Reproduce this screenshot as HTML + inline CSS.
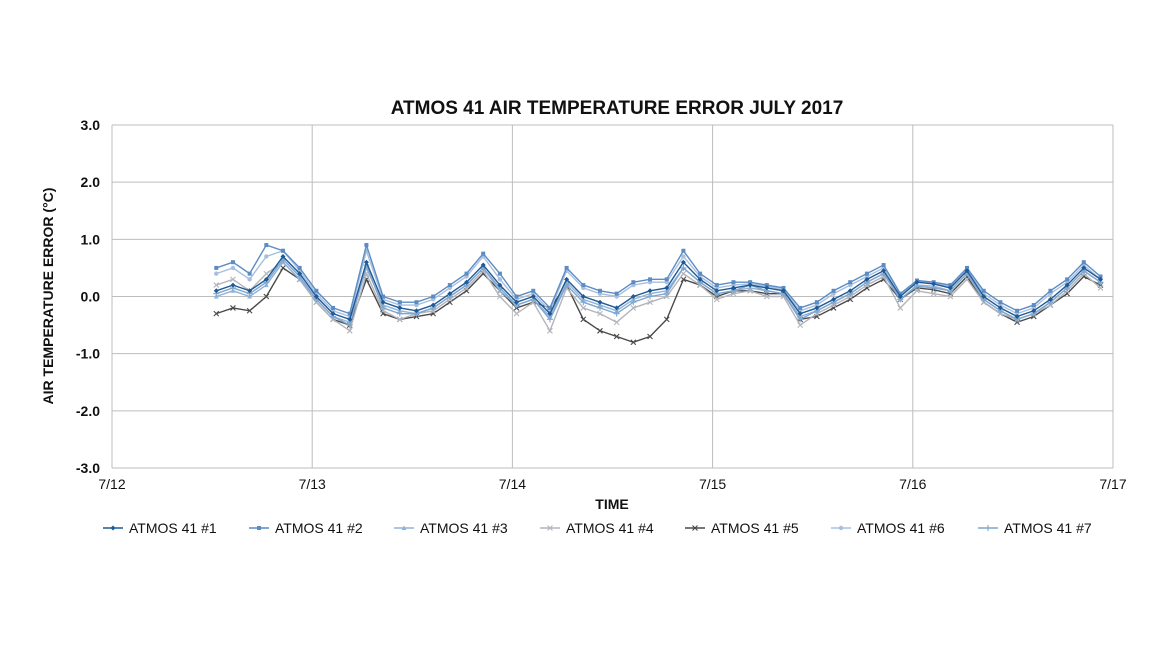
<!DOCTYPE html>
<html><head><meta charset="utf-8"><style>
body{margin:0;background:#fff;}
svg text{font-family:"Liberation Sans",sans-serif;}
</style></head><body>
<svg id="chart" width="1155" height="650" xmlns="http://www.w3.org/2000/svg">
<text x="617" y="114" text-anchor="middle" font-size="19" font-weight="bold" fill="#111">ATMOS 41 AIR TEMPERATURE ERROR JULY 2017</text>
<g id="grid"></g>
<g id="series"></g>
<text transform="translate(53,296) rotate(-90)" text-anchor="middle" font-size="14" font-weight="bold" fill="#111">AIR TEMPERATURE ERROR (°C)</text>
<text x="612" y="509" text-anchor="middle" font-size="14" font-weight="bold" fill="#111">TIME</text>
<g id="legend"></g>
</svg>
<script>
const yTicks=[3.0,2.0,1.0,0.0,-1.0,-2.0,-3.0];
const xTickLabels=["7/12","7/13","7/14","7/15","7/16","7/17"];
const seriesNames=["ATMOS 41 #1","ATMOS 41 #2","ATMOS 41 #3","ATMOS 41 #4","ATMOS 41 #5","ATMOS 41 #6","ATMOS 41 #7"];
const startHour=12.5, stepHours=2;
const s1=[0.1,0.2,0.1,0.3,0.7,0.4,0.0,-0.3,-0.4,0.6,-0.1,-0.2,-0.25,-0.15,0.05,0.25,0.55,0.2,-0.1,0.0,-0.3,0.3,0.0,-0.1,-0.2,0.0,0.1,0.15,0.6,0.3,0.1,0.15,0.2,0.15,0.1,-0.3,-0.2,-0.05,0.1,0.3,0.45,0.0,0.25,0.22,0.15,0.45,0.0,-0.2,-0.35,-0.25,-0.05,0.2,0.5,0.3];
const s2=[0.5,0.6,0.4,0.9,0.8,0.5,0.1,-0.2,-0.3,0.9,0.0,-0.1,-0.1,0.0,0.2,0.4,0.75,0.4,0.0,0.1,-0.2,0.5,0.2,0.1,0.05,0.25,0.3,0.3,0.8,0.4,0.2,0.25,0.25,0.2,0.15,-0.2,-0.1,0.1,0.25,0.4,0.55,0.05,0.28,0.25,0.2,0.5,0.1,-0.1,-0.25,-0.15,0.1,0.3,0.6,0.35];
const s3=[0.0,0.1,0.0,0.2,0.6,0.3,-0.05,-0.35,-0.45,0.5,-0.15,-0.25,-0.3,-0.2,0.0,0.2,0.5,0.1,-0.15,-0.05,-0.35,0.25,-0.05,-0.15,-0.25,-0.05,0.05,0.1,0.5,0.25,0.05,0.1,0.15,0.1,0.05,-0.35,-0.25,-0.1,0.05,0.25,0.4,-0.05,0.2,0.18,0.1,0.4,-0.05,-0.25,-0.4,-0.3,-0.1,0.15,0.45,0.25];
const s4=[0.2,0.3,0.1,0.4,0.6,0.3,-0.1,-0.4,-0.6,0.4,-0.25,-0.4,-0.3,-0.25,-0.05,0.15,0.45,0.0,-0.3,-0.1,-0.6,0.15,-0.2,-0.3,-0.45,-0.2,-0.1,0.0,0.4,0.2,-0.05,0.05,0.1,0.0,0.0,-0.5,-0.3,-0.15,0.0,0.2,0.35,-0.2,0.1,0.05,0.0,0.3,-0.1,-0.3,-0.4,-0.3,-0.15,0.1,0.4,0.15];
const s5=[-0.3,-0.2,-0.25,0.0,0.5,0.3,-0.1,-0.4,-0.5,0.3,-0.3,-0.4,-0.35,-0.3,-0.1,0.1,0.4,0.1,-0.2,-0.1,-0.2,0.2,-0.4,-0.6,-0.7,-0.8,-0.7,-0.4,0.3,0.2,0.0,0.1,0.1,0.05,0.05,-0.4,-0.35,-0.2,-0.05,0.15,0.3,-0.05,0.15,0.12,0.05,0.35,-0.1,-0.3,-0.45,-0.35,-0.15,0.05,0.35,0.2];
const s6=[0.4,0.5,0.3,0.7,0.8,0.45,0.05,-0.25,-0.35,0.8,-0.05,-0.15,-0.15,-0.05,0.15,0.35,0.7,0.3,-0.05,0.05,-0.25,0.45,0.15,0.05,0.0,0.2,0.25,0.25,0.7,0.35,0.15,0.2,0.22,0.18,0.12,-0.25,-0.15,0.05,0.2,0.35,0.5,0.02,0.26,0.23,0.18,0.48,0.05,-0.15,-0.3,-0.2,0.05,0.25,0.55,0.3];
const s7=[0.05,0.15,0.05,0.25,0.65,0.35,-0.05,-0.35,-0.5,0.55,-0.2,-0.3,-0.3,-0.2,0.0,0.2,0.5,0.15,-0.15,-0.05,-0.4,0.2,-0.1,-0.2,-0.3,-0.1,0.0,0.05,0.5,0.25,0.05,0.1,0.2,0.1,0.05,-0.4,-0.25,-0.1,0.05,0.25,0.4,-0.05,0.18,0.15,0.1,0.4,-0.05,-0.25,-0.4,-0.3,-0.1,0.15,0.45,0.25];
const allSeries=[s1,s2,s3,s4,s5,s6,s7];
const colors=["#1f5a96","#5b8cc4","#8fb3d9","#b4b4bc","#4a4a4a","#a8bfe0","#7fa7d0"];
const markers=["diamond","square","triangle","x","x","circle","plus"];
const NS="http://www.w3.org/2000/svg";
const X0=112,X1=1113,Y0=125,Y1=468;
function xScale(h){return X0+(h/120)*(X1-X0);}
function yScale(v){return Y0+(3-v)/6*(Y1-Y0);}
function mk(tag,attrs,parent){const e=document.createElementNS(NS,tag);for(const k in attrs)e.setAttribute(k,attrs[k]);parent.appendChild(e);return e;}
const grid=document.getElementById('grid');
yTicks.forEach(v=>{
  const l=mk('line',{x1:X0,x2:X1,y1:yScale(v),y2:yScale(v),stroke:'#bdbdbd','stroke-width':1},grid);
  
  
  const t=mk('text',{x:100,y:yScale(v)+5,'text-anchor':'end','font-size':14,'font-weight':'bold',fill:'#111'},grid);
  t.textContent=v.toFixed(1);
  
  
});
xTickLabels.forEach((lab,i)=>{
  const x=xScale(i*24);
  const l=mk('line',{x1:x,x2:x,y1:Y0,y2:Y1,stroke:'#bdbdbd','stroke-width':1},grid);
  
  
  const t=mk('text',{x:x,y:489,'text-anchor':'middle','font-size':14,fill:'#111'},grid);
  t.textContent=lab;
  
  
});
function drawMarker(type,x,y,c,parent){
  let e;
  if(type==='diamond')e=mk('polygon',{points:`${x},${y-2.5} ${x+2.5},${y} ${x},${y+2.5} ${x-2.5},${y}`,fill:c},parent);
  else if(type==='square')e=mk('rect',{x:x-2,y:y-2,width:4,height:4,fill:c},parent);
  else if(type==='triangle')e=mk('polygon',{points:`${x},${y-2.5} ${x+2.5},${y+2} ${x-2.5},${y+2}`,fill:c},parent);
  else if(type==='circle')e=mk('circle',{cx:x,cy:y,r:2.2,fill:c},parent);
  else if(type==='x')e=mk('path',{d:`M${x-2.5},${y-2.5}L${x+2.5},${y+2.5}M${x+2.5},${y-2.5}L${x-2.5},${y+2.5}`,stroke:c,'stroke-width':1.1},parent);
  else e=mk('path',{d:`M${x-3},${y}L${x+3},${y}M${x},${y-3}L${x},${y+3}`,stroke:c,'stroke-width':1.1},parent);
  return e;
}
const sg=document.getElementById('series');
const order=[4,3,2,6,5,1,0];
order.forEach(si=>{
  const data=allSeries[si];
  const g=mk('g',{},sg);
  
  
  const pts=data.map((v,i)=>[xScale(startHour+i*stepHours),yScale(v)]);
  const p=mk('polyline',{points:pts.map(q=>q.join(',')).join(' '),fill:'none',stroke:colors[si],'stroke-width':1.4},g);
  
  
  pts.forEach(q=>{
    const m=drawMarker(markers[si],q[0],q[1],colors[si],g);
    
    
  });
});
const lg=document.getElementById('legend');
const legendX=[103,249,394,540,685,831,978];
seriesNames.forEach((n,i)=>{
  const g=mk('g',{},lg);
  
  
  const x=legendX[i],y=528;
  mk('line',{x1:x,x2:x+20,y1:y,y2:y,stroke:colors[i],'stroke-width':1.5},g);
  drawMarker(markers[i],x+10,y,colors[i],g);
  const t=mk('text',{x:x+26,y:y+5,'font-size':14,fill:'#111'},g);
  t.textContent=n;
});
</script>
</body></html>
